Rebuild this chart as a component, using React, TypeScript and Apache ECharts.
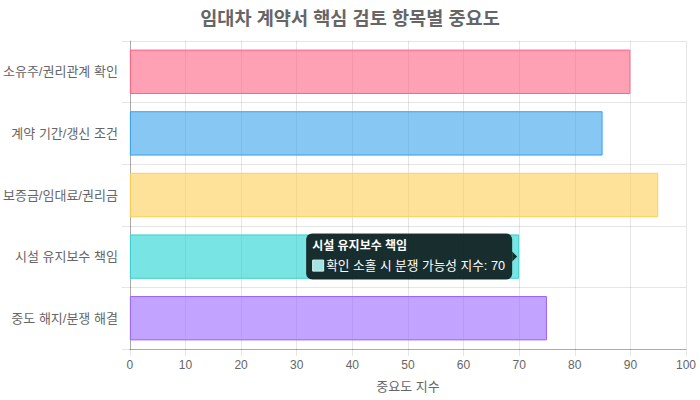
import { useEffect, useRef } from 'react';
import * as echarts from 'echarts';

// 항목 / 중요도 지수
const categories = [
  '소유주/권리관계 확인',
  '계약 기간/갱신 조건',
  '보증금/임대료/권리금',
  '시설 유지보수 책임',
  '중도 해지/분쟁 해결',
];
const values = [90, 85, 95, 70, 75];
const fillColors = [
  'rgba(255, 99, 132, 0.6)',
  'rgba(54, 162, 235, 0.6)',
  'rgba(255, 206, 86, 0.6)',
  'rgba(30, 212, 210, 0.6)',
  'rgba(153, 102, 255, 0.6)',
];
const borderColors = [
  'rgb(255, 99, 132)',
  'rgb(54, 162, 235)',
  'rgb(255, 206, 86)',
  'rgb(60, 208, 204)',
  'rgb(153, 102, 255)',
];
const xTicks = [0, 100, 10]; // min, max, interval

const seriesName = '확인 소홀 시 분쟁 가능성 지수';
const activeIndex = 3; // 툴팁이 떠 있는 항목

const FONT = "'Liberation Sans', Arial, 'Noto Sans CJK KR', sans-serif";
const gridColor = 'rgba(0, 0, 0, 0.1)';
const axisColor = 'rgba(0, 0, 0, 0.25)';

export default function App() {
  const chartRef = useRef<HTMLDivElement>(null);

  useEffect(() => {
    document.body.style.margin = '0';
    if (!chartRef.current) return;
    const chart = echarts.init(chartRef.current, undefined, { renderer: 'svg' });

    const option: echarts.EChartsOption = {
      animation: false,
      backgroundColor: '#ffffff',
      textStyle: { fontFamily: FONT },
      title: {
        text: '임대차 계약서 핵심 검토 항목별 중요도',
        left: 'center',
        top: 9,
        padding: 0,
        textStyle: { fontSize: 18.6, fontWeight: 'bold', color: '#666', fontFamily: FONT },
      },
      grid: { left: 129, right: 14, top: 41, bottom: 51 },
      xAxis: {
        type: 'value',
        min: xTicks[0],
        max: xTicks[1],
        interval: xTicks[2],
        name: '중요도 지수',
        nameLocation: 'middle',
        nameGap: 31,
        nameTextStyle: { fontSize: 13, color: '#666', fontFamily: FONT },
        axisLine: { show: true, lineStyle: { color: axisColor } },
        axisTick: { show: true, length: 7, lineStyle: { color: gridColor } },
        axisLabel: { fontSize: 12, color: '#666', margin: 10, fontFamily: FONT },
        splitLine: { show: true, lineStyle: { color: gridColor } },
      },
      yAxis: {
        type: 'category',
        inverse: true,
        data: categories,
        axisLine: { show: true, lineStyle: { color: axisColor } },
        axisTick: { show: true, length: 8, lineStyle: { color: gridColor } },
        axisLabel: { fontSize: 13, color: '#666', margin: 12, fontFamily: FONT },
        splitLine: { show: true, lineStyle: { color: gridColor } },
      },
      series: [
        {
          name: seriesName,
          type: 'bar',
          barWidth: '72%',
          data: values.map((v, i) => ({
            value: v,
            itemStyle: {
              color: fillColors[i],
              borderColor: borderColors[i],
              borderWidth: 1,
            },
          })),
        },
      ],
    };
    chart.setOption(option);

    // 정적 툴팁 (Chart.js 스타일)
    const pt = chart.convertToPixel({ seriesIndex: 0 }, [values[activeIndex], activeIndex]) as number[];
    const tipX = pt[0] - 2;
    const cy = pt[1];
    const boxW = 206;
    const boxH = 46;
    const boxRight = tipX - 5;
    const boxLeft = boxRight - boxW;
    const boxTop = cy - 23;

    chart.setOption({
      graphic: [
        {
          type: 'group',
          silent: true,
          z: 100,
          children: [
            {
              type: 'rect',
              z: 100,
              shape: { x: boxLeft, y: boxTop, width: boxW, height: boxH, r: 6 },
              style: { fill: 'rgba(0, 0, 0, 0.8)' },
            },
            {
              type: 'polygon',
              z: 100,
              shape: { points: [[boxRight, cy - 5], [tipX, cy], [boxRight, cy + 5]] },
              style: { fill: 'rgba(0, 0, 0, 0.8)' },
            },
            {
              type: 'text',
              z: 101,
              style: {
                text: categories[activeIndex],
                x: boxLeft + 6,
                y: boxTop + 12,
                verticalAlign: 'middle',
                fill: '#fff',
                fontSize: 12,
                fontWeight: 'bold',
                fontFamily: FONT,
              },
            },
            {
              type: 'rect',
              z: 101,
              shape: { x: boxLeft + 6.5, y: boxTop + 26.5, width: 11, height: 11 },
              style: { fill: '#a3e3e3', stroke: '#d6f3f3', lineWidth: 1 },
            },
            {
              type: 'text',
              z: 101,
              style: {
                text: `${seriesName}: ${values[activeIndex]}`,
                x: boxLeft + 20,
                y: boxTop + 32.5,
                verticalAlign: 'middle',
                fill: '#fff',
                fontSize: 12.7,
                fontFamily: FONT,
              },
            },
          ],
        },
      ],
    });

    return () => {
      chart.dispose();
    };
  }, []);

  return <div ref={chartRef} style={{ width: 700, height: 400 }} />;
}
